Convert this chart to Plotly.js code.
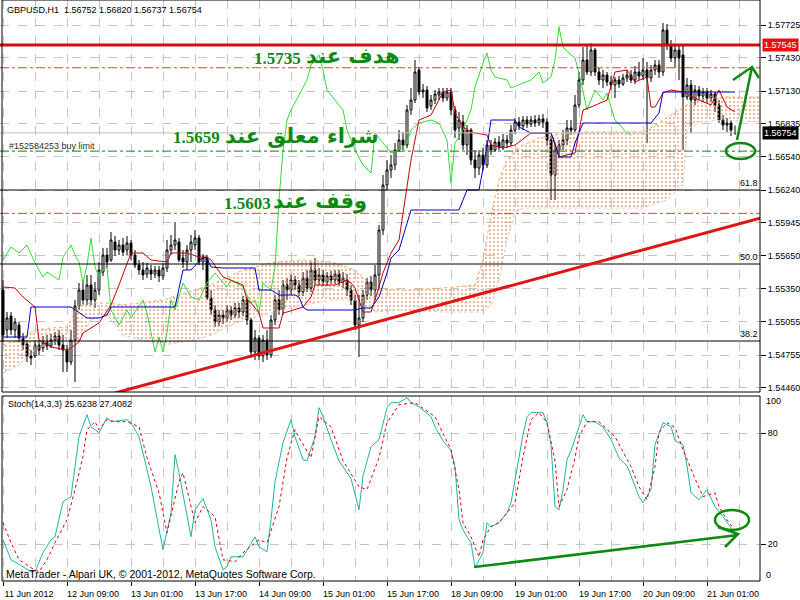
<!DOCTYPE html>
<html><head><meta charset="utf-8">
<script src="https://cdn.plot.ly/plotly-3.0.1.min.js"></script>
<style>html,body{margin:0;padding:0;background:#fff}#chart{width:800px;height:600px}</style>
</head><body><div id="chart"></div>
<script>
// ---------- price data (GBPUSD H1) ----------
const openP = [1.5534,1.5498,1.55106,1.5498,1.55025,1.54908,1.54854,1.54746,1.54746,1.54845,1.54818,1.54872,1.54836,1.5489,1.54926,1.54845,1.548,1.54692,1.5489,1.55196,1.5534,1.5525,1.55385,1.5525,1.5534,1.55502,1.55655,1.5561,1.55772,1.557,1.55745,1.557,1.55763,1.55655,1.55565,1.5552,1.55484,1.5552,1.55484,1.5552,1.55466,1.55538,1.557,1.55745,1.55772,1.55628,1.55592,1.557,1.55745,1.55808,1.55592,1.55628,1.55268,1.5516,1.55052,1.55115,1.55088,1.5516,1.55115,1.55178,1.55142,1.5525,1.5507,1.54782,1.54908,1.54746,1.5489,1.54755,1.5507,1.5525,1.5516,1.55385,1.5534,1.5543,1.55385,1.55322,1.55448,1.55358,1.5552,1.5543,1.55475,1.55412,1.55466,1.5543,1.55484,1.55412,1.5543,1.5534,1.5525,1.55025,1.55088,1.55295,1.55412,1.5534,1.55475,1.5588,1.56285,1.5642,1.56465,1.566,1.5669,1.56645,1.5696,1.5705,1.5732,1.57122,1.5714,1.56996,1.5705,1.57095,1.57122,1.57068,1.57122,1.5696,1.56798,1.56852,1.56645,1.5678,1.5651,1.56438,1.56555,1.56465,1.56645,1.566,1.56672,1.56627,1.5669,1.56663,1.5678,1.56852,1.56816,1.5687,1.56834,1.5687,1.56843,1.56879,1.56852,1.5669,1.56375,1.566,1.56645,1.5669,1.56798,1.5678,1.57005,1.5723,1.5741,1.57302,1.575,1.57302,1.5723,1.57275,1.57212,1.57185,1.5723,1.57194,1.57248,1.57275,1.5723,1.57302,1.57266,1.5732,1.57248,1.5732,1.57365,1.57302,1.5768,1.57545,1.57428,1.575,1.57455,1.57077,1.57185,1.5705,1.5714,1.57086,1.57122,1.57068,1.57104,1.57005,1.5687,1.56825,1.56843,1.56752];
const highP = [1.5543,1.55142,1.55142,1.55088,1.55052,1.54953,1.5489,1.548,1.5489,1.5489,1.54926,1.54935,1.54944,1.54962,1.5498,1.54935,1.54845,1.5498,1.5525,1.55403,1.5543,1.55475,1.55475,1.55412,1.55592,1.55718,1.55718,1.55862,1.55826,1.5579,1.55808,1.55826,1.5579,1.557,1.5561,1.55592,1.55583,1.55565,1.55556,1.55556,1.55583,1.5579,1.55835,1.55952,1.55808,1.557,1.55745,1.55835,1.5588,1.55835,1.55664,1.55655,1.5534,1.55205,1.5516,1.5516,1.55205,1.55196,1.55223,1.55223,1.55286,1.55277,1.55088,1.5498,1.54935,1.54935,1.5498,1.55115,1.55295,1.5534,1.5543,1.55448,1.55475,1.55466,1.5543,1.55502,1.5552,1.55592,1.55628,1.55538,1.5552,1.55502,1.55511,1.5552,1.5552,1.55502,1.55484,1.55385,1.55295,1.55295,1.5534,1.55448,1.55466,1.55565,1.55925,1.56375,1.5651,1.56555,1.56663,1.5678,1.56762,1.57005,1.57158,1.5741,1.57347,1.57194,1.57176,1.57095,1.5714,1.57158,1.57158,1.57158,1.57158,1.56996,1.56942,1.56915,1.56825,1.56798,1.566,1.566,1.56618,1.5669,1.5669,1.56708,1.56726,1.56744,1.56735,1.56825,1.56888,1.56897,1.56906,1.56906,1.56906,1.56915,1.56915,1.56924,1.56888,1.56726,1.56645,1.5669,1.5678,1.5687,1.5687,1.57095,1.57302,1.57527,1.57545,1.57563,1.57518,1.57338,1.5732,1.57302,1.57266,1.57257,1.57266,1.57284,1.5732,1.5732,1.57356,1.57392,1.57428,1.57392,1.57365,1.5741,1.5741,1.57743,1.57734,1.5759,1.57545,1.57545,1.57536,1.57248,1.5723,1.57185,1.57176,1.57158,1.57158,1.5714,1.57122,1.5705,1.56915,1.56888,1.5687,1.5682];
const lowP = [1.54872,1.54908,1.54935,1.54908,1.54872,1.548,1.54692,1.54665,1.54728,1.54755,1.54782,1.548,1.54818,1.54845,1.548,1.54602,1.54602,1.54665,1.54512,1.5516,1.55205,1.55205,1.55205,1.55178,1.55295,1.55466,1.55538,1.55592,1.55646,1.55655,1.55646,1.55655,1.5561,1.55538,1.55475,1.5543,1.55448,1.5543,1.55448,1.55412,1.5543,1.55502,1.55655,1.557,1.55592,1.55538,1.5552,1.55592,1.557,1.55565,1.5552,1.5525,1.55115,1.55007,1.55016,1.55034,1.55052,1.5507,1.55088,1.55088,1.55106,1.55025,1.54728,1.5471,1.5471,1.54692,1.5471,1.54728,1.55025,1.55115,1.55115,1.5525,1.55295,1.5534,1.55286,1.55286,1.55322,1.55322,1.55385,1.55385,1.55376,1.55376,1.55394,1.55394,1.55376,1.55358,1.55286,1.55205,1.5498,1.54737,1.55052,1.5525,1.55286,1.5525,1.5534,1.55835,1.5624,1.56348,1.5642,1.56582,1.566,1.56618,1.56915,1.57023,1.57095,1.57068,1.56942,1.5696,1.57014,1.5705,1.57032,1.57041,1.56915,1.56708,1.5669,1.566,1.56555,1.56465,1.56348,1.56375,1.5642,1.56438,1.56555,1.56582,1.566,1.566,1.56618,1.56636,1.56744,1.5678,1.5678,1.56798,1.56807,1.56807,1.56816,1.56798,1.56645,1.5615,1.5615,1.56528,1.566,1.56645,1.56735,1.56753,1.56978,1.57185,1.57275,1.57266,1.57266,1.57185,1.57158,1.57176,1.5714,1.57068,1.57158,1.57176,1.57212,1.57203,1.57194,1.5723,1.5723,1.56663,1.57212,1.57275,1.57248,1.57266,1.575,1.57392,1.57338,1.5723,1.566,1.5705,1.56753,1.57005,1.5705,1.57032,1.57023,1.57032,1.56942,1.56843,1.5678,1.56762,1.56726,1.56737];
const closeP = [1.54935,1.55088,1.5498,1.55052,1.54908,1.54845,1.54746,1.54728,1.54845,1.548,1.54872,1.54836,1.5489,1.54926,1.54845,1.548,1.54692,1.5489,1.55196,1.5534,1.5525,1.55385,1.5525,1.5534,1.5552,1.55655,1.55592,1.5579,1.557,1.55745,1.55682,1.55763,1.55655,1.55565,1.5552,1.55475,1.55538,1.55484,1.5552,1.55466,1.55538,1.557,1.55745,1.5579,1.5561,1.55592,1.557,1.55772,1.55808,1.55592,1.55628,1.55268,1.5516,1.55052,1.55115,1.55088,1.5516,1.55115,1.55178,1.55142,1.5525,1.5507,1.54782,1.54908,1.54746,1.5489,1.54755,1.5507,1.5525,1.5516,1.55385,1.5534,1.5543,1.55385,1.55322,1.55448,1.55358,1.5552,1.5543,1.55475,1.55412,1.55466,1.5543,1.55484,1.55412,1.55448,1.5534,1.5525,1.55025,1.55088,1.55295,1.55412,1.5534,1.55475,1.5588,1.56285,1.5642,1.56465,1.566,1.5669,1.56645,1.5696,1.5705,1.57302,1.57122,1.5714,1.56978,1.5705,1.57104,1.57122,1.57068,1.57122,1.5696,1.5678,1.5687,1.56645,1.5678,1.5651,1.56438,1.56555,1.56465,1.56645,1.566,1.56672,1.56627,1.5669,1.56663,1.5678,1.56852,1.56816,1.5687,1.56834,1.5687,1.56843,1.56879,1.56852,1.5669,1.56375,1.566,1.56645,1.5669,1.56798,1.5678,1.57005,1.5723,1.5741,1.57302,1.575,1.57302,1.5723,1.57275,1.57212,1.57185,1.5723,1.57194,1.57248,1.57275,1.5723,1.57302,1.57266,1.5732,1.57248,1.5732,1.57365,1.57302,1.5768,1.57545,1.57428,1.575,1.57428,1.57077,1.57185,1.5705,1.5714,1.57086,1.57122,1.57068,1.57104,1.57005,1.5687,1.56825,1.56843,1.5678,1.56754];

// ---------- Ichimoku (bar index / price) ----------
const tenkanBar = [0,3,5,8,9,12,16,17,19,20,24,27,29,32,35,37,41,42,46,49,51,52,55,57,60,61,62,64,65,69,70,71,75,77,78,83,86,87,88,90,92,93,95,97,99,102,104,107,110,112,113,115,117,118,121,122,125,128,132,137,139,143,145,147,151,153,156,158,161,162,163,164,165,167,170,174,176,177,179,181,183];
const tenkanVal = [1.55367,1.55358,1.55277,1.55187,1.5489,1.54827,1.548,1.54818,1.54872,1.54953,1.55043,1.55205,1.55385,1.55673,1.55673,1.5561,1.55592,1.55673,1.55673,1.55637,1.55637,1.5561,1.55457,1.5543,1.55385,1.5525,1.55223,1.55133,1.54998,1.54998,1.55133,1.55142,1.55187,1.55277,1.55385,1.55385,1.5543,1.55403,1.55358,1.55142,1.55142,1.5525,1.55493,1.55673,1.5579,1.5651,1.5687,1.56915,1.57122,1.5714,1.56933,1.56807,1.56762,1.56753,1.56735,1.56645,1.56618,1.56645,1.56753,1.56753,1.56537,1.56573,1.5696,1.56987,1.5705,1.57302,1.5732,1.57212,1.57257,1.56987,1.56987,1.5705,1.57113,1.5714,1.57122,1.5705,1.57023,1.57005,1.5714,1.56987,1.56942];
const kijunBar = [0,6,7,17,21,24,26,27,43,45,47,50,51,52,55,63,64,67,69,73,74,75,76,88,90,92,94,96,97,99,102,114,116,119,121,122,128,129,132,137,138,139,142,143,145,162,164,165,183];
const kijunVal = [1.54917,1.54917,1.55187,1.55187,1.55088,1.55088,1.55115,1.55187,1.55187,1.5552,1.5552,1.55637,1.55628,1.55547,1.55538,1.55538,1.5534,1.5534,1.55295,1.55295,1.55277,1.55187,1.5516,1.5516,1.55178,1.55178,1.55277,1.55493,1.55628,1.557,1.5606,1.5606,1.5624,1.5624,1.56627,1.5687,1.5687,1.56807,1.56753,1.56753,1.56663,1.56537,1.56537,1.56663,1.56843,1.56843,1.56933,1.57122,1.57122];
const chikouBar = [0,2,4,6,8,10,11,14,15,17,18,19,20,21,22,23,24,25,26,27,29,31,32,35,36,37,38,39,40,41,42,43,45,47,49,51,53,56,57,60,62,63,64,65,67,68,69,70,71,72,74,76,77,79,80,81,83,85,86,88,90,92,93,95,97,99,101,102,104,107,109,111,112,113,115,117,118,120,121,122,123,126,127,130,132,134,135,137,138,139,140,142,143,144,145,146,147,148,150,151,152,153,156,157];
const chikouVal = [1.5561,1.55727,1.55673,1.55745,1.55583,1.55457,1.55502,1.5543,1.55637,1.55745,1.55655,1.55592,1.55403,1.55565,1.55808,1.55547,1.55457,1.5552,1.55547,1.5516,1.55025,1.5516,1.55088,1.5525,1.55133,1.54953,1.54782,1.54917,1.54782,1.54953,1.5525,1.5516,1.55403,1.55277,1.5525,1.55403,1.55493,1.55367,1.5543,1.55367,1.55223,1.5525,1.55133,1.55403,1.5534,1.55547,1.5615,1.566,1.5687,1.5696,1.57095,1.5723,1.57365,1.57455,1.5732,1.5714,1.5705,1.5696,1.5678,1.566,1.56465,1.56393,1.56753,1.56663,1.56573,1.566,1.56663,1.5678,1.56843,1.5687,1.56843,1.5669,1.56303,1.56663,1.5678,1.5696,1.57167,1.57383,1.57473,1.5732,1.57257,1.5723,1.57158,1.57203,1.5723,1.57302,1.57203,1.57257,1.5741,1.57707,1.57527,1.57455,1.57428,1.57293,1.5714,1.5696,1.5705,1.5714,1.5705,1.57113,1.56987,1.5687,1.56753,1.56735];
const cloudBar = [0,4,8,12,16,19,22,26,30,40,48,52,60,68,75,82,88,93,100,110,118,120,122,124,126,128,130,134,138,142,150,160,162,166,170,171,174,180,189];
const cloudUpper = [1.54845,1.5489,1.5498,1.54998,1.55007,1.55205,1.55223,1.55223,1.55205,1.5525,1.5534,1.55385,1.5552,1.55592,1.5561,1.55592,1.5552,1.55358,1.5534,1.55358,1.55385,1.5561,1.56015,1.5633,1.5651,1.566,1.56645,1.56708,1.56735,1.56762,1.56762,1.56762,1.56798,1.56888,1.56978,1.57005,1.5705,1.57077,1.57077];
const cloudLower = [1.54593,1.54665,1.548,1.54872,1.5489,1.5489,1.5507,1.55115,1.54935,1.54845,1.5489,1.54935,1.5507,1.55142,1.55205,1.5525,1.5525,1.55142,1.5516,1.55142,1.55142,1.55142,1.55205,1.5543,1.5579,1.56042,1.56078,1.56078,1.56078,1.56078,1.56078,1.56078,1.56105,1.5615,1.56285,1.5678,1.56852,1.5687,1.56852];

// ---------- Stochastic (14,3,3) ----------
const stochBar = [0,1,2,5,7,8,10,12,13,15,17,18,19,21,22,24,26,27,31,32,34,36,37,40,42,43,44,47,48,50,52,53,55,56,57,60,62,63,64,66,67,68,70,72,73,75,76,78,79,80,82,84,87,89,90,92,94,96,97,99,101,102,104,107,108,110,112,113,114,115,116,117,118,120,121,122,124,126,127,128,130,131,132,135,136,137,138,139,140,141,142,144,145,146,148,150,151,152,154,156,157,159,160,162,163,165,167,168,170,171,172,174,176,177,178,180,181,183];
const stochMain = [22.3,16.9,11.5,7.7,5.0,5.0,15.3,22.3,23.9,42.9,45.6,61.8,78.0,89.9,83.4,80.2,88.3,86.1,87.2,85.6,78.0,60.2,51.0,16.9,36.9,68.3,58.5,23.9,38.5,44.5,33.1,18.5,6.1,7.7,13.1,13.1,20.7,23.9,18.5,15.8,33.1,53.7,74.7,87.2,78.0,65.6,65.0,78.0,93.7,88.8,76.4,65.0,55.3,38.5,56.9,72.6,76.4,93.7,96.4,96.4,99.1,96.4,94.2,88.8,83.4,75.8,70.4,61.8,33.1,27.7,23.9,20.7,7.2,15.3,31.5,29.4,31.5,36.9,42.3,55.3,79.1,88.8,91.0,91.0,85.6,73.7,40.2,38.5,49.4,65.6,70.4,83.4,89.9,86.1,86.1,83.4,80.2,76.4,66.6,62.3,56.9,45.6,42.3,49.4,73.7,85.6,83.4,75.8,73.7,62.3,47.7,43.9,49.4,44.5,40.2,34.8,31.5,25.6238];
const signalBar = [0,2,4,7,9,11,13,16,18,20,21,23,24,26,28,31,34,36,39,41,44,45,48,50,53,55,58,60,64,66,69,71,73,74,77,79,82,85,89,91,94,96,99,103,108,112,114,115,117,119,120,122,124,128,130,132,134,136,138,139,141,143,144,146,149,153,157,159,161,163,164,166,168,170,173,175,178,179,181,183];
const stochSignal = [31.5,20.7,11.5,7.2,5.0,11.5,20.7,33.1,49.4,67.2,81.8,86.1,81.8,87.2,86.1,86.1,83.4,66.6,47.7,26.1,53.7,58.5,31.5,40.2,34.8,11.5,10.4,15.3,22.3,20.7,40.2,66.6,81.8,77.5,66.6,88.8,83.4,65.0,51.0,49.4,66.6,85.6,95.3,96.4,88.8,71.0,49.4,31.5,23.9,13.1,22.3,29.4,31.5,42.3,67.2,87.2,91.0,85.6,65.0,40.2,49.4,66.6,78.0,86.1,86.1,78.0,61.8,51.0,43.9,61.8,80.2,85.6,82.9,71.0,55.3,45.6,47.7,40.2,33.1,27.4082];

// ---------- axis labels ----------
const tickBars = [0,16,32,48,64,80,96,112,128,144,160,176];
const tickText = ["11 Jun 2012","12 Jun 09:00","13 Jun 01:00","13 Jun 17:00","14 Jun 09:00","15 Jun 01:00","15 Jun 17:00","18 Jun 09:00","19 Jun 01:00","19 Jun 17:00","20 Jun 09:00","21 Jun 01:00"];
const minorBars = [8,24,40,56,72,88,104,120,136,152,168,184];
const priceTicks = [1.57725,1.5743,1.5713,1.56835,1.5654,1.5624,1.55945,1.5565,1.5535,1.55055,1.54755,1.5446];

// ---------- levels & drawings ----------
const resistanceLevel = 1.57545;
const targetLevel = 1.5734;
const bidLevel = 1.56754;
const buyLimitLevel = 1.5659;
const stopLevel = 1.5603;
const fibLevels = [1.5624, 1.55574, 1.54881];
const fibLabels = ["61.8", "50.0", "38.2"];
const trendBars = [28, 189.25];
const trendPrices = [1.54413, 1.55987];

const W = 760, H = 581;
const px = (x) => x / W, py = (y) => 1 - y / H;
const mainDom = [py(392), 1], stochDom = [0, py(396)];
const LBL = {family: 'Liberation Sans, Arial, sans-serif', size: 9, color: '#000'};
const GREEN = '#0c8a12';

const bars = openP.map((_, i) => i);

const traces = [
  {type:'scatter', x: cloudBar, y: cloudLower, mode:'lines', line:{color:'#d8bfd8', width:1, dash:'dot'}, hoverinfo:'skip', xaxis:'x', yaxis:'y'},
  {type:'scatter', x: cloudBar, y: cloudUpper, mode:'lines', line:{color:'#f4a460', width:1, dash:'dot'}, fill:'tonexty',
   fillcolor:'rgba(0,0,0,0)', fillpattern:{shape:'.', fgcolor:'#e99a66', bgcolor:'rgba(0,0,0,0)', size:4, solidity:0.16}, hoverinfo:'skip', xaxis:'x', yaxis:'y'},
  {type:'scatter', x: chikouBar, y: chikouVal, mode:'lines', line:{color:'#33dd33', width:1}, hoverinfo:'skip'},
  {type:'candlestick', x: bars, open: openP, high: highP, low: lowP, close: closeP,
   increasing:{line:{color:'#000', width:1}, fillcolor:'#fff'},
   decreasing:{line:{color:'#000', width:1}, fillcolor:'#000'},
   whiskerwidth:0, hoverinfo:'skip', xaxis:'x', yaxis:'y'},
  {type:'scatter', x: tenkanBar, y: tenkanVal, mode:'lines', line:{color:'#c80000', width:1}, hoverinfo:'skip'},
  {type:'scatter', x: kijunBar, y: kijunVal, mode:'lines', line:{color:'#0000c0', width:1}, hoverinfo:'skip'},
  {type:'scatter', x: stochBar, y: stochMain, mode:'lines', line:{color:'#20b2aa', width:1}, hoverinfo:'skip', xaxis:'x', yaxis:'y2'},
  {type:'scatter', x: signalBar, y: stochSignal, mode:'lines', line:{color:'#e00000', width:1, dash:'dot'}, hoverinfo:'skip', xaxis:'x', yaxis:'y2'}
];

const hline = (y, color, width, dash) => ({type:'line', xref:'paper', x0:0, x1:1, yref:'y', y0:y, y1:y, line:{color, width, dash}, layer:'above'});
const shapes = [
  hline(resistanceLevel, '#cc1010', 3, 'solid'),
  hline(targetLevel, '#dd4422', 1, 'dashdot'),
  hline(bidLevel, '#c0c0c0', 1, 'solid'),
  hline(buyLimitLevel, '#108010', 1, 'dashdot'),
  hline(stopLevel, '#dd4422', 1, 'dashdot'),
  ...fibLevels.map(v => hline(v, '#000', 1, 'solid')),
  {type:'line', xref:'x', yref:'y', x0:trendBars[0], x1:trendBars[1], y0:trendPrices[0], y1:trendPrices[1], line:{color:'#e01515', width:3}, layer:'above'},
  // frames
  {type:'rect', xref:'paper', yref:'paper', x0:px(2), x1:1, y0:mainDom[0], y1:mainDom[1], line:{color:'#000', width:1}},
  {type:'rect', xref:'paper', yref:'paper', x0:px(2), x1:1, y0:stochDom[0], y1:stochDom[1], line:{color:'#000', width:1}},
  // hand drawn green marks
  {type:'circle', xref:'paper', yref:'paper', x0:px(726), x1:px(755), y0:py(159), y1:py(143), line:{color:GREEN, width:2.5}},
  {type:'path', xref:'paper', yref:'paper', path:`M ${px(737)},${py(140)} L ${px(752)},${py(67)} M ${px(733)},${py(80)} L ${px(752)},${py(67)} L ${px(759)},${py(78)}`, line:{color:GREEN, width:2.5}},
  {type:'circle', xref:'paper', yref:'paper', x0:px(715), x1:px(749), y0:py(530), y1:py(510), line:{color:GREEN, width:2.5}},
  {type:'path', xref:'paper', yref:'paper', path:`M ${px(474)},${py(567)} L ${px(738)},${py(535)} M ${px(718)},${py(527)} L ${px(738)},${py(534)} L ${px(725)},${py(547)}`, line:{color:GREEN, width:2.5}}
];

const ann = (x, y, text, font, xanchor='left', extra={}) => Object.assign({xref:'paper', yref:'paper', x, y, text, showarrow:false, xanchor, yanchor:'middle', font}, extra);
const arFont = (size) => ({family:'DejaVu Sans, sans-serif', size, color:GREEN});
const NUM = {family:'Liberation Serif, serif', size:17, color:GREEN};
const annotations = [
  ann(px(5), py(10), 'GBPUSD,H1  1.56752 1.56820 1.56737 1.56754', LBL),
  ann(px(7), py(146), '#152584253 buy limit', {family:LBL.family, size:9, color:'#303030'}),
  ann(px(401), py(56), '<b>هدف عند</b>', arFont(21), 'right'),
  ann(px(303), py(58), '<b>1.5735</b>', NUM, 'right'),
  ann(px(381), py(136), '<b>شراء معلق عند</b>', arFont(21), 'right'),
  ann(px(222), py(138), '<b>1.5659</b>', NUM, 'right'),
  ann(px(369), py(201), '<b>وقف عند</b>', arFont(21), 'right'),
  ann(px(273), py(203), '<b>1.5603</b>', NUM, 'right'),
  ...fibLevels.map((v, k) => ({xref:'paper', yref:'y', x:1, y:v, text:fibLabels[k], showarrow:false, xanchor:'right', yanchor:'bottom', font:LBL})),
  ann(px(6), py(404), 'Stoch(14,3,3) 25.6238 27.4082', LBL),
  ann(px(4), py(574), 'MetaTrader - Alpari UK, © 2001-2012, MetaQuotes Software Corp.', {family:LBL.family, size:10.5, color:'#000'}),
  ann(1, py(401), '100', LBL, 'left', {xshift:4}),
  ann(1, py(575), '0', LBL, 'left', {xshift:4}),
  {xref:'paper', yref:'y', x:1, y:resistanceLevel, text:'1.57545', showarrow:false, xanchor:'left', yanchor:'middle', xshift:2, bgcolor:'#e81010', borderpad:1, font:{family:LBL.family, size:9, color:'#fff'}},
  {xref:'paper', yref:'y', x:1, y:bidLevel, text:'1.56754', showarrow:false, xanchor:'left', yanchor:'middle', xshift:2, bgcolor:'#000', borderpad:1, font:{family:LBL.family, size:9, color:'#fff'}}
];

const layout = {
  width:800, height:600, margin:{l:0, r:40, t:0, b:19},
  paper_bgcolor:'#fff', plot_bgcolor:'#fff', showlegend:false,
  xaxis:{domain:[0,1], range:[-0.75,189.25], anchor:'y2', tickmode:'array', tickvals:tickBars, ticktext:tickText,
    ticks:'outside', ticklen:4, tickcolor:'#000', tickfont:LBL, ticklabelshift:26,
    showgrid:true, gridcolor:'#c4c4c4', griddash:'dash', gridwidth:1,
    minor:{tickvals:minorBars, showgrid:true, gridcolor:'#c4c4c4', griddash:'dash', ticks:''},
    zeroline:false, showline:false, rangeslider:{visible:false}, fixedrange:true},
  yaxis:{domain:mainDom, anchor:'x', side:'right', range:[1.54422,1.5795], tickmode:'array', tickvals:priceTicks,
    ticktext:priceTicks.map(v => v.toFixed(5)), ticks:'outside', ticklen:5, tickcolor:'#000', tickfont:LBL,
    showgrid:true, gridcolor:'#c4c4c4', griddash:'dash', zeroline:false, showline:false, fixedrange:true},
  yaxis2:{domain:stochDom, anchor:'x', side:'right', range:[0,100], tickmode:'array', tickvals:[20,80], ticktext:['20','80'],
    ticks:'outside', ticklen:5, tickcolor:'#000', tickfont:LBL,
    showgrid:true, gridcolor:'#c4c4c4', griddash:'dash', zeroline:false, showline:false, fixedrange:true},
  shapes, annotations
};

Plotly.newPlot('chart', traces, layout, {staticPlot:true, displayModeBar:false});
</script>
</body></html>
